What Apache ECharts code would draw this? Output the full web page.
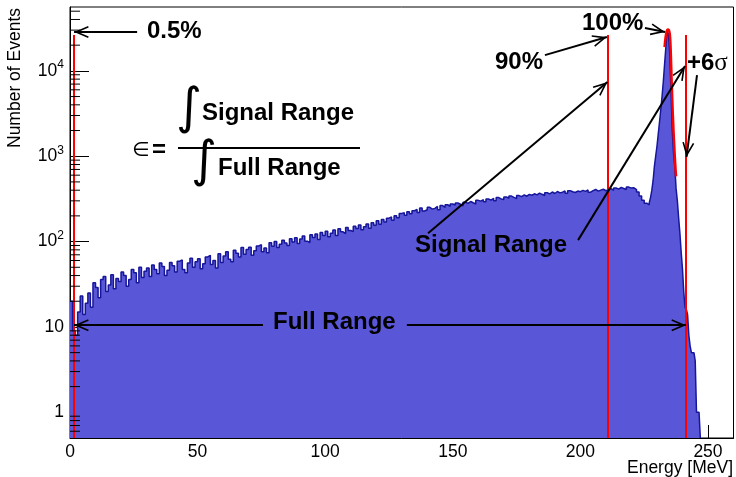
<!DOCTYPE html>
<html lang="en">
<head>
<meta charset="UTF-8">
<title>Energy spectrum</title>
<script src="https://cdn.jsdelivr.net/npm/echarts@6.0.0/dist/echarts.min.js"></script>
<style>
  html, body { margin: 0; padding: 0; background: #fff; }
  #main { width: 736px; height: 477px; }
</style>
</head>
<body>
<div id="main"></div>
<script>
// counts in 1 MeV bins, first bin starts at 0 MeV
var bodyCounts = [
  20, 9, 8, 15, 23, 14, 19, 25, 17, 33,
  29, 22, 36, 39, 26, 31, 41, 28, 37, 34,
  44, 40, 30, 36, 47, 43, 33, 50, 38, 45,
  49, 39, 53, 47, 42, 56, 51, 40, 46, 57,
  52, 44, 59, 61, 47, 43, 56, 64, 50, 58,
  63, 48, 55, 66, 69, 54, 60, 49, 72, 57,
  68, 76, 62, 58, 79, 73, 66, 85, 71, 81,
  86, 69, 78, 89, 92, 76, 84, 74, 97, 88,
  100, 85, 93, 104, 96, 90, 108, 99, 111, 95,
  107, 116, 101, 97, 120, 112, 123, 106, 128, 118,
  132, 114, 125, 137, 118, 141, 130, 124, 146, 135,
  131, 151, 142, 156, 138, 149, 161, 143, 166, 155,
  175, 160, 181, 170, 188, 194, 178, 201, 190, 214,
  218, 203, 224, 212, 230, 238, 219, 247, 228, 236,
  252, 240, 245, 258, 236, 264, 251, 270, 259, 276,
  268, 283, 274, 262, 289, 280, 295, 285, 276, 304,
  298, 310, 292, 315, 306, 322, 301, 328, 316, 311,
  334, 322, 341, 329, 318, 346, 336, 352, 340, 357,
  349, 363, 352, 370, 358, 347, 374, 362, 381, 366,
  386, 372, 379, 392, 368, 395, 383, 376, 391, 384,
  398, 387, 403, 379, 396, 408, 390, 401, 411, 394,
  405, 417, 399, 424, 412, 430, 419, 408, 435, 423,
  426, 407, 380, 343, 305, 282
];

// peak region, 0.5 MeV bins starting at 226 MeV
var peakStart = 226;
var peakBin = 0.5;
var peakCounts = [
  275, 270, 285, 330, 400, 520, 760, 1000, 1300, 1800,
  2500, 3500, 5000, 7500, 12000, 19000, 30000, 27000, 16000, 6000,
  2000, 1100, 750, 420, 300, 190, 125, 75, 48, 26,
  17, 16, 14, 8, 6, 5, 5, 5, 4, 1,
  1, 1
];

// gaussian fit over the peak
var fitEnergy = [233.0, 233.4, 233.8, 234.1, 234.4, 234.7, 235.0, 235.3, 235.6, 236.0, 236.4, 236.8, 237.2, 237.5];
var fitCounts = [19000, 25000, 28800, 30300, 30600, 30000, 27500, 20500, 11000, 4700, 2300, 1300, 780, 580];

// range edges in MeV: 0.5%, 90%, +6 sigma
var cutEnergy = [1.3, 210.8, 241.3];
var cutTop = 26300;

var yMin = 0.5, yMax = 56000;
var yMinorTicks = [0.6, 0.7, 0.8, 0.9,
  2, 3, 4, 5, 6, 7, 8, 9,
  20, 30, 40, 50, 60, 70, 80, 90,
  200, 300, 400, 500, 600, 700, 800, 900,
  2000, 3000, 4000, 5000, 6000, 7000, 8000, 9000,
  20000, 30000, 40000, 50000];

var histData = [];
bodyCounts.forEach(function (c, i) { histData.push([i, c]); });
peakCounts.forEach(function (c, i) { histData.push([peakStart + i * peakBin, c]); });
var histEnd = peakStart + peakCounts.length * peakBin;
histData.push([histEnd, peakCounts[peakCounts.length - 1]]);
histData.push([histEnd, yMin]);

var fitData = fitEnergy.map(function (e, i) { return [e, fitCounts[i]]; });

// arrows, in data coordinates [from, to]
var arrows = [
  [[26.3, 28500], [1.6, 28500]],     // 0.5%
  [[225.3, 31800], [233.2, 28500]],  // 100%
  [[186.1, 15300], [210.4, 24900]],  // 90%
  [[245.7, 8900], [241.6, 980]],     // +6 sigma
  [[140.3, 125], [210.6, 7400]],     // signal range -> 90%
  [[199.1, 104], [241.0, 11400]],    // signal range -> +6 sigma
  [[75.6, 10.5], [1.6, 10.5]],       // full range left
  [[132.0, 10.5], [241.4, 10.5]]     // full range right
];

var head = 'path://M0,-14.6 L0.01,-14.6 Z M0,0 L6,14 L4.5,14.6 L0,4.2 L-4.5,14.6 L-6,14 Z';

var sans = 'Liberation Sans, Arial, Helvetica, sans-serif';
var bold = 'bold 24px ' + sans;

function txt(x, y, text, font, extra, styleExtra) {
  var el = { type: 'text', x: x, y: y, z: 100,
    style: { text: text, font: font, fill: '#000', textVerticalAlign: 'middle' } };
  if (extra) Object.assign(el, extra);
  if (styleExtra) Object.assign(el.style, styleExtra);
  return el;
}

var myChart = echarts.init(document.getElementById('main'));

myChart.setOption({
  animation: false,
  grid: {
    left: 70, right: 2.5, top: 7, bottom: 39, containLabel: false, outerBoundsMode: 'none',
    show: true, borderColor: '#000', borderWidth: 1
  },
  xAxis: {
    type: 'value', min: 0, max: 260, interval: 50,
    axisLine: { lineStyle: { color: '#000', width: 1 } },
    axisTick: { inside: true, length: 13, lineStyle: { color: '#000' } },
    minorTick: { show: true, splitNumber: 5, length: 6.5, lineStyle: { color: '#000' } },
    splitLine: { show: false },
    axisLabel: { fontFamily: sans, fontSize: 17.5, color: '#000', margin: 5, showMaxLabel: false }
  },
  yAxis: {
    type: 'log', logBase: 10, min: yMin, max: yMax,
    axisLine: { show: true, lineStyle: { color: '#000', width: 1 } },
    axisTick: { show: true, inside: true, length: 19, lineStyle: { color: '#000' } },
    splitLine: { show: false },
    axisLabel: {
      showMinLabel: false, showMaxLabel: false, margin: 6,
      fontFamily: sans, fontSize: 17.5, color: '#000',
      formatter: function (v) {
        var p = Math.round(Math.log10(v));
        if (p === 0) return '1';
        if (p === 1) return '10';
        return '10{sup|' + p + '}';
      },
      rich: {
        sup: { fontFamily: sans, fontSize: 12, color: '#000', padding: [0, 0, 12, 0] }
      }
    }
  },
  series: [
    {
      type: 'line', step: 'end', symbol: 'none', data: histData, z: 2,
      lineStyle: { color: '#16169a', width: 1.5 },
      areaStyle: { color: '#5a56d8', origin: 'start', opacity: 1 }
    },
    {
      type: 'line', smooth: true, symbol: 'none', data: fitData, z: 3,
      lineStyle: { color: '#ff0000', width: 2.5 },
      markLine: {
        silent: true, symbol: 'none', label: { show: false },
        lineStyle: { color: '#ff0000', width: 2, type: 'solid' },
        data: cutEnergy.map(function (e) { return [{ coord: [e, yMin] }, { coord: [e, cutTop] }]; })
      }
    },
    {
      type: 'line', data: [], z: 4,
      markLine: {
        silent: true, symbol: ['none', head], symbolSize: [12, 29.2], label: { show: false },
        lineStyle: { color: '#000', width: 2, type: 'solid' },
        data: arrows.map(function (a) { return [{ coord: a[0] }, { coord: a[1] }]; })
      }
    },
    {
      type: 'custom', z: 5, silent: true,
      data: yMinorTicks.map(function (v) { return [0, v]; }),
      renderItem: function (params, api) {
        var p = api.coord([0, api.value(1)]);
        return { type: 'line', shape: { x1: p[0], y1: p[1], x2: p[0] + 10, y2: p[1] },
          style: { stroke: '#000', lineWidth: 1 } };
      }
    }
  ],
  graphic: [
    txt(15, 148, 'Number of Events', '17.5px ' + sans, { rotation: Math.PI / 2 }),
    txt(733, 468, 'Energy [MeV]', '17.5px ' + sans, null, { textAlign: 'right' }),
    txt(147, 31, '0.5%', bold),
    txt(582, 23, '100%', bold),
    txt(495, 62, '90%', bold),
    { type: 'text', x: 687, y: 63, z: 100,
      style: { text: '{a|+6}{b|σ}', textVerticalAlign: 'middle',
        rich: { a: { font: bold, fill: '#000' }, b: { font: '25px Liberation Serif, serif', fill: '#000' } } } },
    txt(415, 245, 'Signal Range', bold),
    txt(273, 322, 'Full Range', bold),
    txt(132, 151, '∈', '20px DejaVu Sans, sans-serif'),
    txt(152, 150, '=', bold),
    txt(176, 110, '∫', '50px DejaVu Sans, sans-serif'),
    txt(191, 163, '∫', '50px DejaVu Sans, sans-serif'),
    txt(202, 113, 'Signal Range', bold),
    txt(218, 168, 'Full Range', bold),
    { type: 'line', z: 100, shape: { x1: 178, y1: 148, x2: 360, y2: 148 }, style: { stroke: '#000', lineWidth: 2 } }
  ]
});
</script>
</body>
</html>
